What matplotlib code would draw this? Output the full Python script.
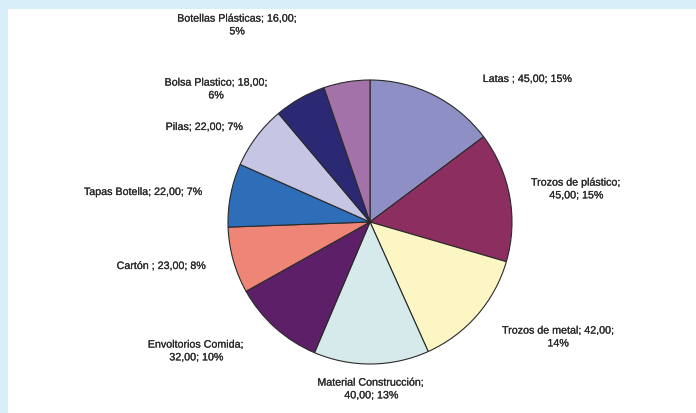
import matplotlib.pyplot as plt
import matplotlib.patheffects as pe
from matplotlib.patches import Rectangle

# data (clockwise from 12 o'clock)
names = ["Latas ", "Trozos de plástico", "Trozos de metal", "Material Construcción",
         "Envoltorios Comida", "Cartón ", "Tapas Botella", "Pilas",
         "Bolsa Plastico", "Botellas Plásticas"]
values = [45, 45, 42, 40, 32, 23, 22, 22, 18, 16]
colors = ["#8e8fc4", "#8c2f60", "#fbf6c4", "#d7eaeb", "#5d1f67",
          "#ee8577", "#2e6db7", "#c6c6e4", "#2b2874", "#a372a9"]

# label layout: line break mode (0 none, 1 after name, 2 after value) and centre in pixels
breaks = [0, 1, 2, 1, 1, 0, 0, 0, 2, 2]
label_pos = [(527, 80), (576, 190), (558, 338), (371, 390), (196, 352),
             (161, 267), (143, 193), (204, 128), (216, 90), (237, 26)]

W, H = 696, 414
total = sum(values)

fig = plt.figure(figsize=(W / 100, H / 100), dpi=100)
ax = fig.add_axes([0, 0, 1, 1])

ax.pie(values, colors=colors, startangle=90, counterclock=False,
       center=(370, H - 223), radius=142, frame=True,
       wedgeprops=dict(edgecolor="#2a2a2a", linewidth=0.8))
ax.set_xlim(0, W)
ax.set_ylim(0, H)
ax.set_aspect("equal")
ax.axis("off")

# light blue frame on top and left
ax.add_patch(Rectangle((0, 0), 8, H, color="#d8eef8", lw=0))
ax.add_patch(Rectangle((0, H - 10), W, 10, color="#d8eef8", lw=0))

for name, v, b, (x, y) in zip(names, values, breaks, label_pos):
    val = f"{v:.2f}".replace(".", ",")
    pct = f"{round(v / total * 100)}%"
    if b == 0:
        txt = f"{name}; {val}; {pct}"
    elif b == 1:
        txt = f"{name};\n{val}; {pct}"
    else:
        txt = f"{name}; {val};\n{pct}"
    ax.text(x, H - y, txt, ha="center", va="center", fontsize=7.7,
            family="Liberation Sans", color="#2a2a2a", linespacing=1.35,
            path_effects=[pe.withStroke(linewidth=0.15, foreground="#2a2a2a")])

plt.savefig("out.png", dpi=100, facecolor="white")
